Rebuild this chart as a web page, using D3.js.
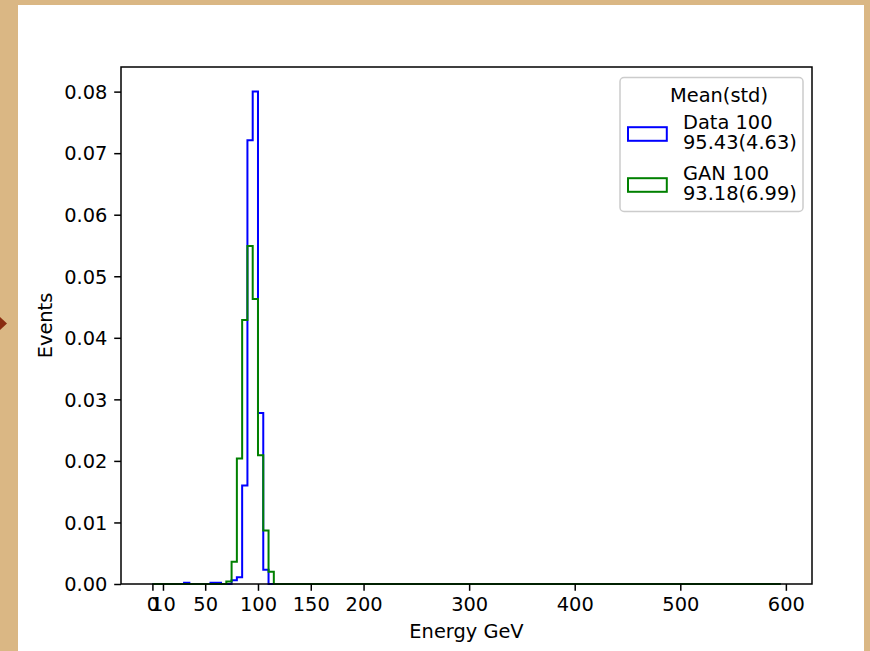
<!DOCTYPE html>
<html>
<head>
<meta charset="utf-8">
<script src="https://cdn.jsdelivr.net/npm/d3@7"></script>
<style>
  html, body { margin: 0; padding: 0; background: #dab784; }
  svg { display: block; }
  text { font-family: "DejaVu Sans", sans-serif; fill: #000; }
</style>
</head>
<body>
<div id="chart"></div>
<script>
// ---- data ----
const histRange = [0, 595];          // outer bin edges of the histograms
const binWidth = 5;
const binStarts = [25, 30, 35, 40, 45, 50, 55, 60, 65, 70, 75, 80, 85, 90, 95, 100, 105, 110, 115, 120];
const dataValues = [0, 0.0002, 0, 0, 0, 0, 0.0002, 0.0002, 0, 0, 0.0006, 0.0011, 0.016, 0.0721, 0.0800, 0.0278, 0.0023, 0, 0, 0];
const ganValues  = [0, 0, 0, 0, 0, 0, 0, 0, 0, 0.0004, 0.0036, 0.0204, 0.0429, 0.0549, 0.0463, 0.0209, 0.0087, 0.0020, 0, 0];
const seriesNames = ["Data 100", "GAN 100"];
const seriesStats = ["95.43(4.63)", "93.18(6.99)"];
const seriesColors = ["#0000ff", "#008000"];
const legendTitle = "Mean(std)";
const xTicks = [0, 10, 50, 100, 150, 200, 300, 400, 500, 600];
const yTicks = [0, 0.01, 0.02, 0.03, 0.04, 0.05, 0.06, 0.07, 0.08];
const xLabel = "Energy GeV";
const yLabel = "Events";

// ---- layout ----
const W = 870, H = 651;
const fs = 19.4;
const plot = { left: 121, right: 812, top: 67, bottom: 584 };

const svg = d3.select("#chart").append("svg").attr("width", W).attr("height", H);

// page frame
svg.append("rect").attr("x", 0).attr("y", 0).attr("width", W).attr("height", H).attr("fill", "#dab784");
svg.append("rect").attr("x", 18).attr("y", 5).attr("width", 846).attr("height", H - 5).attr("fill", "#ffffff");
svg.append("path").attr("d", "M0,317 L7,323.5 L0,330 Z").attr("fill", "#8a2c10");

// scales
const span = histRange[1] - histRange[0];
const x = d3.scaleLinear()
  .domain([histRange[0] - 0.05 * span, histRange[1] + 0.05 * span])
  .range([plot.left, plot.right]);
const yMax = d3.max(dataValues.concat(ganValues)) * 1.05;
const y = d3.scaleLinear().domain([0, yMax]).range([plot.bottom, plot.top]);

// histogram step outlines
function stepPath(values) {
  const pts = [[histRange[0], 0], [binStarts[0], 0]];
  values.forEach((v, i) => {
    pts.push([binStarts[i], v]);
    pts.push([binStarts[i] + binWidth, v]);
  });
  pts.push([binStarts[binStarts.length - 1] + binWidth, 0]);
  pts.push([histRange[1], 0]);
  return d3.line().x(d => x(d[0])).y(d => y(d[1]))(pts);
}
[dataValues, ganValues].forEach((vals, i) => {
  svg.append("path")
    .attr("d", stepPath(vals))
    .attr("fill", "none")
    .attr("stroke", seriesColors[i])
    .attr("stroke-width", 2)
    .attr("stroke-linejoin", "miter");
});

// axes
const xAxis = d3.axisBottom(x).tickValues(xTicks).tickFormat(d3.format("d")).tickSize(6.8).tickPadding(6.5);
const yAxis = d3.axisLeft(y).tickValues(yTicks).tickFormat(d3.format(".2f")).tickSize(6.8).tickPadding(6.8);

const gx = svg.append("g").attr("transform", `translate(0,${plot.bottom})`).call(xAxis);
const gy = svg.append("g").attr("transform", `translate(${plot.left},0)`).call(yAxis);
[gx, gy].forEach(g => {
  g.select(".domain").remove();
  g.selectAll(".tick line").attr("stroke", "#000").attr("stroke-width", 1.5);
  g.selectAll(".tick text").attr("font-size", fs).attr("font-family", "DejaVu Sans").attr("fill", "#000");
});
gy.selectAll(".tick text").attr("dy", "0.35em");

// frame (spines)
svg.append("rect")
  .attr("x", plot.left).attr("y", plot.top)
  .attr("width", plot.right - plot.left).attr("height", plot.bottom - plot.top)
  .attr("fill", "none").attr("stroke", "#000").attr("stroke-width", 1.5);

// axis labels
svg.append("text").attr("x", (plot.left + plot.right) / 2).attr("y", 638)
  .attr("text-anchor", "middle").attr("font-size", fs).text(xLabel);
svg.append("text").attr("transform", `translate(51.5,${(plot.top + plot.bottom) / 2}) rotate(-90)`)
  .attr("text-anchor", "middle").attr("font-size", fs).text(yLabel);

// legend
const lg = svg.append("g");
lg.append("rect").attr("x", 620).attr("y", 77.5).attr("width", 183).attr("height", 134)
  .attr("rx", 4).attr("fill", "#ffffff").attr("fill-opacity", 0.8)
  .attr("stroke", "#cccccc").attr("stroke-width", 1.5);
lg.append("text").attr("x", 719).attr("y", 102).attr("text-anchor", "middle")
  .attr("font-size", fs).text(legendTitle);
seriesNames.forEach((name, i) => {
  const cy = 134 + i * 51;
  lg.append("rect").attr("x", 628).attr("y", cy - 6.8).attr("width", 38.8).attr("height", 13.6)
    .attr("fill", "none").attr("stroke", seriesColors[i]).attr("stroke-width", 2);
  lg.append("text").attr("x", 683).attr("y", cy - 5.5).attr("font-size", fs).text(name);
  lg.append("text").attr("x", 683).attr("y", cy + 15).attr("font-size", fs).text(seriesStats[i]);
});
</script>
</body>
</html>
